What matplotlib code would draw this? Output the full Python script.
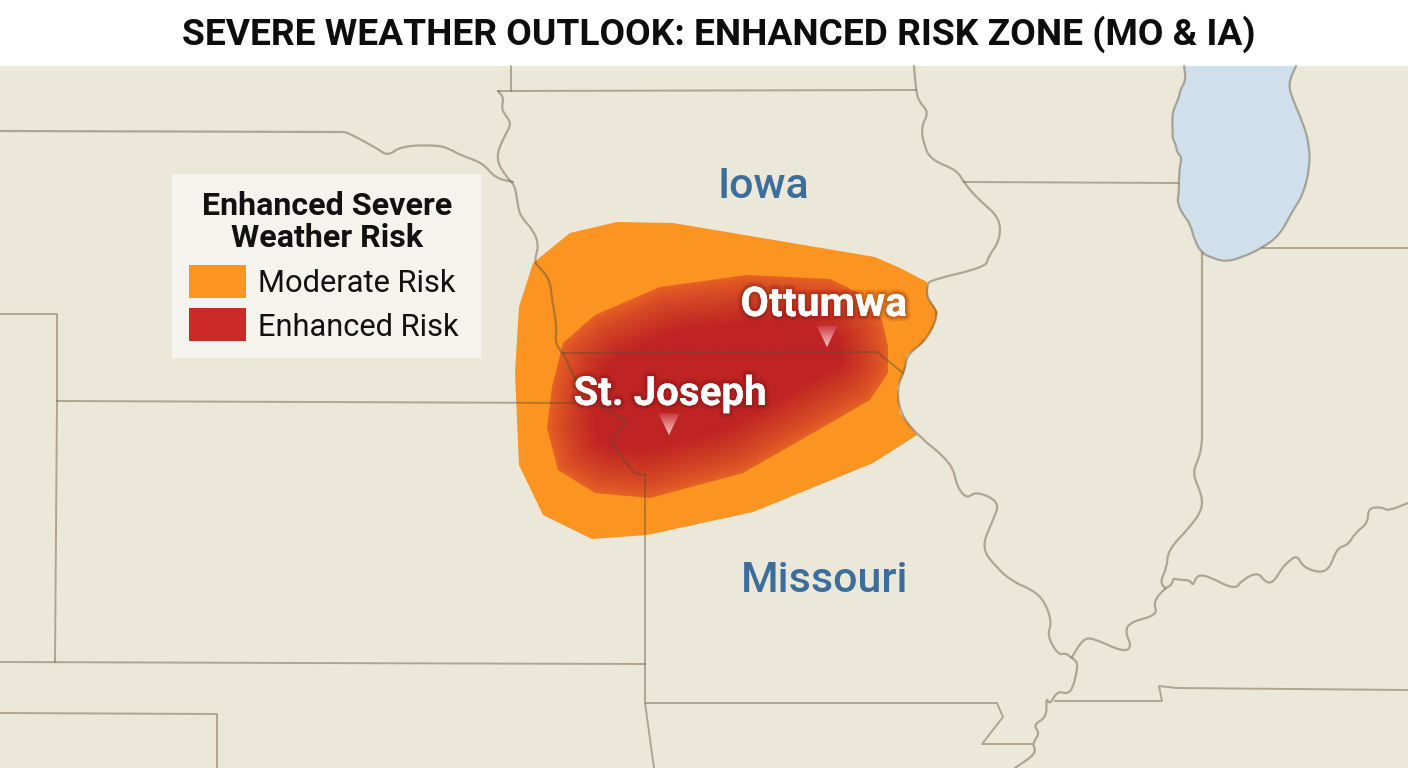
import numpy as np
import matplotlib
matplotlib.use("Agg")
import matplotlib.pyplot as plt
from matplotlib.patches import Polygon, Rectangle, PathPatch
from matplotlib.path import Path
import matplotlib.patheffects as pe

plt.rcParams['font.family'] = ['Roboto', 'DejaVu Sans']

title = "SEVERE WEATHER OUTLOOK: ENHANCED RISK ZONE (MO & IA)"
legend_title = "Enhanced Severe\nWeather Risk"
legend_labels = ["Moderate Risk", "Enhanced Risk"]
state_names = ["Iowa", "Missouri"]
state_xy = [(763, 186), (825, 581)]
city_names = ["Ottumwa", "St. Joseph"]
city_xy = [(824, 305), (670, 394)]
city_pins = [(827, 347), (669, 435)]

# 地图坐标直接按参考图像素读取 (x, y)
moderate_area = [(570, 233), (617, 222), (673, 223), (875, 257), (900, 268), (927, 282), (928, 298), (938, 312),
                 (933, 328), (923, 343), (907, 355), (905, 370), (897, 387), (900, 413), (917, 435), (873, 463),
                 (753, 512), (647, 535), (592, 539), (543, 515), (519, 465), (515, 373), (519, 307), (533, 263)]
enhanced_area = [(660, 287), (747, 275), (830, 279), (857, 292), (882, 320), (888, 347), (888, 373), (870, 400),
                 (813, 433), (743, 473), (650, 498), (595, 493), (558, 470), (547, 428), (552, 387), (563, 343),
                 (595, 315)]
lake = [(1184, 66), (1186, 80), (1180, 90), (1179, 98), (1173, 110), (1172, 123), (1173, 132), (1172, 137),
        (1176, 145), (1177, 153), (1182, 157), (1179, 170), (1179, 193), (1177, 202), (1183, 215), (1190, 223),
        (1195, 242), (1202, 253), (1210, 257), (1225, 262), (1243, 257), (1262, 248), (1280, 235), (1293, 210),
        (1303, 195), (1310, 167), (1309, 143), (1303, 123), (1293, 100), (1288, 84), (1296, 66)]
iowa_north = [(511, 66), (511, 91)]
iowa_top = [(498, 91), (916, 90)]
iowa_west = [(498, 91), (504, 98), (501, 110), (512, 123), (505, 135), (495, 158), (507, 178), (515, 185),
             (518, 207), (521, 217), (533, 230), (539, 245), (534, 262), (540, 268), (550, 280), (552, 300),
             (557, 327), (555, 342), (562, 353), (567, 360), (573, 377), (593, 400), (610, 413), (627, 420),
             (622, 428), (608, 440), (627, 463), (633, 473), (645, 475)]
iowa_south = [(562, 353), (877, 352), (903, 373)]
mississippi = [(914, 66), (916, 90), (919, 102), (929, 112), (921, 127), (924, 145), (931, 160), (957, 170),
               (964, 183), (979, 200), (1000, 218), (1000, 240), (988, 257), (986, 267), (931, 280), (927, 285),
               (927, 298), (938, 312), (933, 328), (923, 343), (907, 355), (905, 370), (897, 387), (900, 413),
               (917, 435), (952, 463), (957, 487), (967, 499), (976, 491), (1000, 502), (993, 520), (981, 548),
               (997, 568), (1013, 582), (1033, 590), (1045, 602), (1052, 623), (1047, 635), (1058, 655), (1066, 653),
               (1070, 657), (1078, 662), (1076, 675), (1073, 687), (1068, 694), (1057, 691), (1050, 705), (1046, 697),
               (1047, 717), (1033, 725), (1040, 733), (1032, 744), (1037, 753), (1015, 768)]
ohio = [(1072, 657), (1083, 639), (1093, 638), (1123, 652), (1132, 647), (1125, 632), (1130, 622), (1158, 615),
        (1153, 602), (1165, 588), (1172, 585), (1173, 578), (1179, 580), (1190, 580), (1193, 586), (1197, 575),
        (1208, 576), (1235, 590), (1242, 580), (1258, 572), (1265, 582), (1273, 583), (1282, 568), (1288, 562),
        (1297, 555), (1303, 567), (1320, 573), (1330, 568), (1337, 548), (1348, 545), (1355, 533), (1368, 523),
        (1368, 508), (1382, 507), (1388, 511), (1408, 503)]
illinois_east = [(1202, 253), (1202, 436), (1202, 440), (1200, 456), (1192, 473), (1202, 495), (1202, 510), (1190, 527),
                 (1168, 550), (1167, 567), (1160, 582), (1165, 588)]
nebraska_north = [(0, 131), (340, 132), (347, 132), (378, 149), (388, 156), (401, 146), (437, 145), (450, 149),
                  (460, 155), (483, 163), (495, 178), (513, 182)]
kansas_north = [(57, 401), (575, 403)]
west_box = [(0, 314), (57, 314), (57, 401), (55, 662)]
kansas_south = [(0, 662), (300, 663), (645, 664)]
mo_west = [(645, 475), (645, 703), (654, 768)]
mo_south = [(646, 703), (997, 703), (1003, 717), (982, 744), (1032, 744)]
arkansas = [(1055, 701), (1162, 701), (1159, 686), (1177, 688), (1408, 690)]
oklahoma = [(0, 713), (217, 714), (217, 768)]
wi_south = [(964, 182), (1178, 183)]
mi_south = [(1262, 248), (1408, 248)]
straight_lines = [iowa_north, iowa_top, iowa_south, kansas_north, west_box, kansas_south, mo_west, arkansas,
                  oklahoma, wi_south, mi_south, mo_south]
river_lines = [iowa_west, mississippi, ohio, illinois_east, nebraska_north, lake]

BEIGE = '#ebe7d9'
ORANGE = '#fb9420'
EDGE_RED = np.array([230, 98, 38]) / 255
CORE_RED = np.array([191, 35, 35]) / 255
BLUE = '#3c6e9c'
LINE = '#5a4b32'

fig = plt.figure(figsize=(14.08, 7.68), dpi=100, facecolor='white')
ax = fig.add_axes([0, 0, 1, 1])
ax.set_xlim(0, 1408)
ax.set_ylim(768, 0)
ax.axis('off')


def river_path(points):
    # 河流边界圆滑一点: 折点当控制点画二次曲线
    pts = np.array(points, dtype=float)
    mids = (pts[:-1] + pts[1:]) / 2
    verts = [pts[0], mids[0]]
    codes = [Path.MOVETO, Path.LINETO]
    for p, m in zip(pts[1:-1], mids[1:]):
        verts += [p, m]
        codes += [Path.CURVE3, Path.CURVE3]
    verts.append(pts[-1])
    codes.append(Path.LINETO)
    return Path(verts, codes)


ax.add_patch(Rectangle((0, 66), 1408, 702, fc=BEIGE, ec='none', zorder=0))
ax.add_patch(PathPatch(river_path(lake), fc='#cfdfeb', ec='none', zorder=1))
ax.add_patch(Polygon(moderate_area, closed=True, fc=ORANGE, ec='none', zorder=2))

# 红色区域: 按到边界的距离做渐变
poly = np.array(enhanced_area, dtype=float)
x0, x1, y0, y1 = poly[:, 0].min(), poly[:, 0].max(), poly[:, 1].min(), poly[:, 1].max()
gx, gy = np.meshgrid(np.arange(x0, x1 + 1), np.arange(y0, y1 + 1))
dist = np.full(gx.shape, 1e9)
for a, b in zip(poly, np.roll(poly, -1, axis=0)):
    ab = b - a
    t = np.clip(((gx - a[0]) * ab[0] + (gy - a[1]) * ab[1]) / (ab @ ab), 0, 1)
    dist = np.minimum(dist, np.hypot(gx - a[0] - t * ab[0], gy - a[1] - t * ab[1]))
w = np.clip(dist / 48, 0, 1)[..., None] ** 0.8
red_img = ax.imshow(EDGE_RED * (1 - w) + CORE_RED * w, extent=(x0, x1, y1, y0), zorder=3, aspect='auto')
red_patch = Polygon(enhanced_area, closed=True, fc='none', ec='none', zorder=3)
ax.add_patch(red_patch)
red_img.set_clip_path(red_patch)

for line in straight_lines:
    xs, ys = zip(*line)
    ax.plot(xs, ys, color=LINE, alpha=0.42, lw=1.4, solid_joinstyle='round', solid_capstyle='round', zorder=4)
for line in river_lines:
    ax.add_patch(PathPatch(river_path(line), fc='none', ec=LINE, alpha=0.42, lw=1.6, capstyle='round',
                           joinstyle='round', zorder=4))

# 城市下方的小三角
for px, py in city_pins:
    tri = Polygon([(px - 10.5, py - 21.5), (px + 10.5, py - 21.5), (px, py)], closed=True, fc='none', ec='none', zorder=5)
    ax.add_patch(tri)
    grad = np.linspace(0, 1, 40)[:, None, None]
    img = ax.imshow(np.array([0.80, 0.22, 0.25]) * (1 - grad) + np.array([0.96, 0.78, 0.78]) * grad,
                    extent=(px - 11, px + 11, py, py - 22), zorder=5, aspect='auto')
    img.set_clip_path(tri)
ax.set_xlim(0, 1408)
ax.set_ylim(768, 0)

ax.text(719, 34, title, ha='center', va='center', fontsize=26.7, fontweight='bold', color='#0d0d0d')

for name, (sx, sy) in zip(state_names, state_xy):
    ax.text(sx, sy, name, ha='center', va='center', fontsize=31, fontweight='medium', color=BLUE, zorder=6)

# 城市名的柔和阴影
glow = [pe.withStroke(linewidth=7, foreground=(0.40, 0.05, 0.05, 0.12)),
        pe.withStroke(linewidth=4, foreground=(0.40, 0.05, 0.05, 0.20))]
for name, (cx, cy), size in zip(city_names, city_xy, (29.5, 29)):
    ax.text(cx, cy, name, ha='center', va='center', fontsize=size, fontweight='bold', color='white',
            path_effects=glow, zorder=6)

# 图例
ax.add_patch(Rectangle((172, 174), 309, 184, fc='#f5f3ee', ec='none', zorder=6))
ax.text(327, 222, legend_title, ha='center', va='center', fontsize=23.2, fontweight='bold', color='#111111',
        linespacing=1.1, zorder=7)
ax.add_patch(Rectangle((189, 265), 57, 33, fc=ORANGE, ec='none', zorder=7))
ax.add_patch(Rectangle((189, 308), 57, 33, fc='#cc2a27', ec='none', zorder=7))
for label, ly in zip(legend_labels, (284, 327)):
    ax.text(258, ly, label, ha='left', va='center', fontsize=22.2, color='#111111', zorder=7)

fig.savefig('out.png', dpi=100, facecolor='white')
